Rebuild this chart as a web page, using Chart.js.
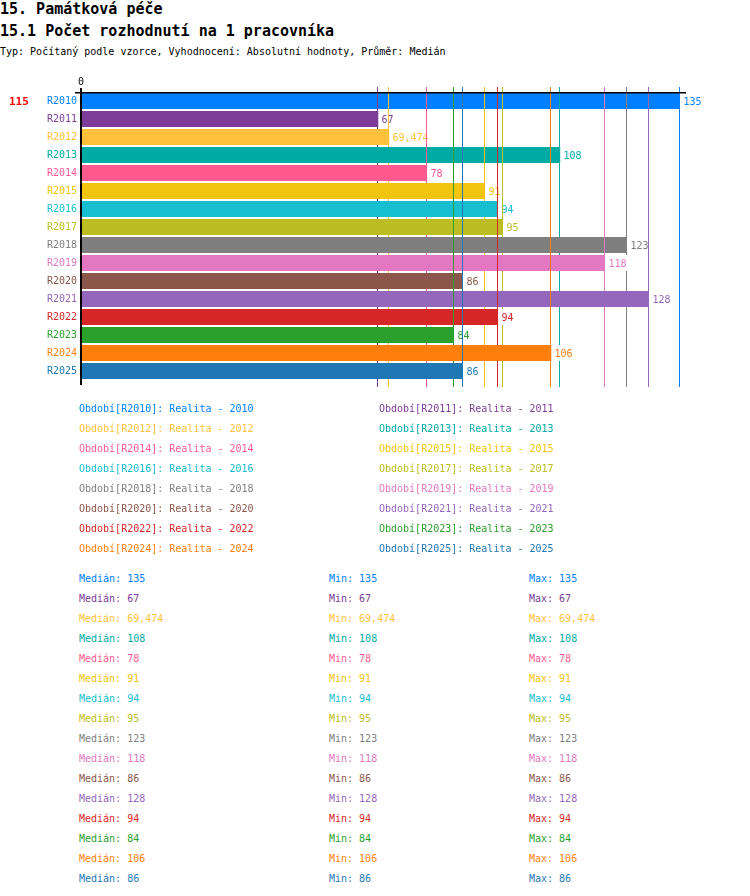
<!DOCTYPE html>
<html><head><meta charset="utf-8">
<script src="https://cdn.jsdelivr.net/npm/chart.js@4"></script>
<style>
body{margin:0;background:#fff;width:750px;height:896px;position:relative;overflow:hidden;font-family:"DejaVu Sans Mono",monospace;}
.t{position:absolute;left:0;white-space:pre;}
#t1{top:2px;font-size:15px;line-height:15px;font-weight:bold;}
#t2{top:24px;font-size:15px;line-height:15px;font-weight:bold;}
#t3{top:47px;font-size:10px;line-height:10px;}
#cv{position:absolute;left:0;top:0;}
.row{position:absolute;font-size:10px;line-height:20px;height:20px;white-space:pre;}
</style></head>
<body>
<div class="t" id="t1">15. Památková péče</div>
<div class="t" id="t2">15.1 Počet rozhodnutí na 1 pracovníka</div>
<div class="t" id="t3">Typ: Počítaný podle vzorce, Vyhodnocení: Absolutní hodnoty, Průměr: Medián</div>
<canvas id="cv" width="750" height="400"></canvas>
<div id="legend"></div>
<div id="stats"></div>
<script>
const categories = ["R2010","R2011","R2012","R2013","R2014","R2015","R2016","R2017","R2018","R2019","R2020","R2021","R2022","R2023","R2024","R2025"];
const seriesNames = ["Realita - 2010","Realita - 2011","Realita - 2012","Realita - 2013","Realita - 2014","Realita - 2015","Realita - 2016","Realita - 2017","Realita - 2018","Realita - 2019","Realita - 2020","Realita - 2021","Realita - 2022","Realita - 2023","Realita - 2024","Realita - 2025"];
const values = [135, 67, 69.474, 108, 78, 91, 94, 95, 123, 118, 86, 128, 94, 84, 106, 86];
const medians = [135, 67, 69.474, 108, 78, 91, 94, 95, 123, 118, 86, 128, 94, 84, 106, 86];
const mins = [135, 67, 69.474, 108, 78, 91, 94, 95, 123, 118, 86, 128, 94, 84, 106, 86];
const maxs = [135, 67, 69.474, 108, 78, 91, 94, 95, 123, 118, 86, 128, 94, 84, 106, 86];
const colors = ["#0080ff","#7d3c98","#ffc13b","#00aba5","#ff5a8f","#f1c40f","#17becf","#bcbd22","#7f7f7f","#e377c2","#8c564b","#9467bd","#d62728","#2ca02c","#ff7f0e","#1f77b4"];
const targetLabel = "115";
const xMin = 0, xMax = 135;

const FONT = '"DejaVu Sans Mono", monospace';
const fmt = v => String(v).replace('.', ',');

const datasets = categories.map((c, i) => ({
  label: seriesNames[i],
  data: categories.map((_, j) => j === i ? values[i] : null),
  backgroundColor: colors[i],
  borderWidth: 0,
  grouped: false,
  order: categories.length - i,
  barPercentage: 16 / 18,
  categoryPercentage: 1
}));

const overlay = {
  id: 'overlay',
  afterDatasetDraw(chart, args) {
    const i = args.index;
    const ctx = chart.ctx;
    const xs = chart.scales.x, ys = chart.scales.y;
    const x = Math.round(xs.getPixelForValue(values[i])) - 0.5;
    ctx.save();
    ctx.strokeStyle = colors[i];
    ctx.lineWidth = 1;
    ctx.beginPath();
    ctx.moveTo(x, 87);
    ctx.lineTo(x, 387);
    ctx.stroke();
    const y = ys.getPixelForValue(i);
    ctx.font = '10px ' + FONT;
    const txt = fmt(values[i]);
    const w = ctx.measureText(txt).width;
    ctx.fillStyle = '#fff';
    ctx.fillRect(x + 2, y - 8, w + 3, 16);
    ctx.fillStyle = colors[i];
    ctx.textBaseline = 'alphabetic';
    ctx.textAlign = 'left';
    ctx.fillText(txt, x + 4, y + 4);
    ctx.restore();
  },
  afterDraw(chart) {
    const ctx = chart.ctx;
    const xs = chart.scales.x, ys = chart.scales.y;
    const x0 = xs.getPixelForValue(xMin);
    ctx.save();
    ctx.fillStyle = '#000';
    ctx.fillRect(Math.round(x0) - 1, 88, 2, 297);
    ctx.fillRect(75, chart.chartArea.top, 611, 1.5);
    ctx.font = '10px ' + FONT;
    ctx.textAlign = 'center';
    ctx.fillText(String(xMin), x0, 85);
    ctx.font = 'bold 11px ' + FONT;
    ctx.textAlign = 'left';
    ctx.fillStyle = '#ff0000';
    ctx.fillText(targetLabel, 9, ys.getPixelForValue(0) + 4);
    ctx.restore();
  }
};

new Chart(document.getElementById('cv'), {
  type: 'bar',
  data: { labels: categories, datasets },
  options: {
    indexAxis: 'y',
    responsive: false,
    animation: false,
    devicePixelRatio: 1,
    layout: { padding: { top: 92, bottom: 20, left: 0, right: 70 } },
    plugins: { legend: { display: false }, tooltip: { enabled: false } },
    scales: {
      x: { display: false, min: xMin, max: xMax },
      y: {
        grid: { display: false, drawTicks: false },
        border: { display: false },
        ticks: {
          padding: 4,
          font: { family: FONT, size: 10 },
          color: c => colors[c.index]
        },
        afterFit(s) { s.width = 81; }
      }
    }
  },
  plugins: [overlay]
});

// Legend
const lg = document.getElementById('legend');
categories.forEach((c, i) => {
  const d = document.createElement('div');
  d.className = 'row';
  d.style.left = (i % 2 === 0 ? 79 : 379) + 'px';
  d.style.top = (399 + Math.floor(i / 2) * 20) + 'px';
  d.style.color = colors[i];
  d.textContent = 'Období[' + c + ']: ' + seriesNames[i];
  lg.appendChild(d);
});
// Stats
const st = document.getElementById('stats');
categories.forEach((c, i) => {
  [['Medián: ', medians, 79], ['Min: ', mins, 329], ['Max: ', maxs, 529]].forEach(([lab, arr, lx]) => {
    const d = document.createElement('div');
    d.className = 'row';
    d.style.left = lx + 'px';
    d.style.top = (569 + i * 20) + 'px';
    d.style.color = colors[i];
    d.textContent = lab + fmt(arr[i]);
    st.appendChild(d);
  });
});
</script>
</body></html>
